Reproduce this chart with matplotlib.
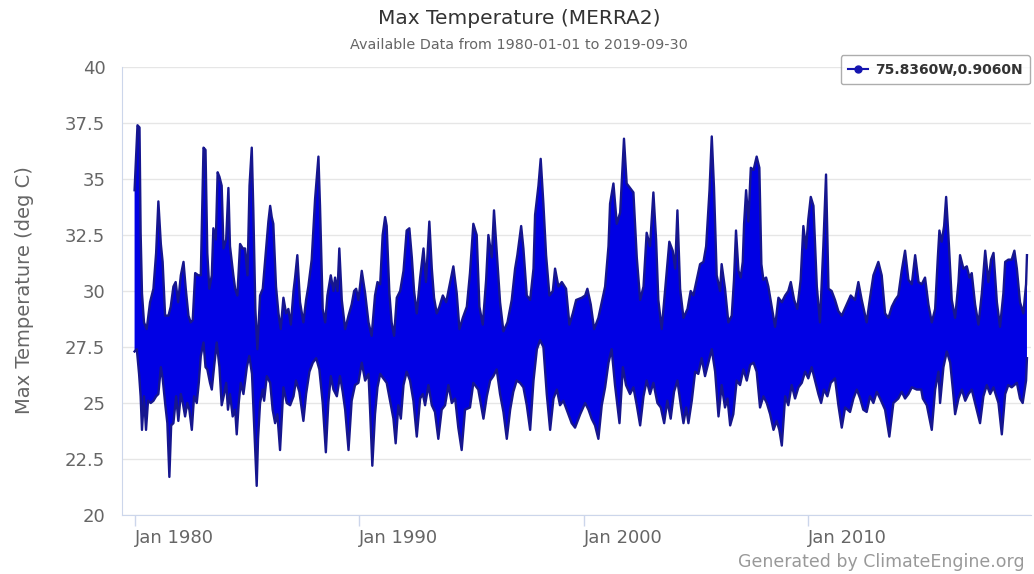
import matplotlib
matplotlib.use("Agg")
import matplotlib.pyplot as plt
from matplotlib.lines import Line2D

# ------------------------------------------------------------
# Daily max temperature (MERRA2), read off the chart as the
# upper and lower edge of the daily trace (decimal years, deg C)
# ------------------------------------------------------------
hi_years = [
    1980.00, 1980.13, 1980.22, 1980.27, 1980.33, 1980.42, 1980.54, 1980.69, 1980.84, 1980.96,
    1981.06, 1981.17, 1981.25, 1981.36, 1981.51, 1981.61, 1981.73, 1981.83, 1981.94, 1982.06,
    1982.18, 1982.28, 1982.40, 1982.50, 1982.59, 1982.70, 1982.84, 1982.95, 1983.07, 1983.16,
    1983.24, 1983.33, 1983.44, 1983.51, 1983.62, 1983.70, 1983.78, 1983.88, 1983.96, 1984.08,
    1984.18, 1984.25, 1984.40, 1984.48, 1984.58, 1984.70, 1984.82, 1984.92, 1985.03, 1985.12,
    1985.22, 1985.29, 1985.38, 1985.47, 1985.59, 1985.71, 1985.81, 1985.96, 1986.04, 1986.11,
    1986.18, 1986.30, 1986.41, 1986.51, 1986.63, 1986.75, 1986.85, 1986.96, 1987.08, 1987.15,
    1987.25, 1987.37, 1987.52, 1987.64, 1987.74, 1987.89, 1988.04, 1988.19, 1988.26, 1988.38,
    1988.49, 1988.59, 1988.74, 1988.86, 1988.93, 1989.04, 1989.12, 1989.23, 1989.38, 1989.53,
    1989.67, 1989.78, 1989.87, 1989.97, 1990.12, 1990.27, 1990.42, 1990.56, 1990.71, 1990.82,
    1990.94, 1991.05, 1991.16, 1991.23, 1991.35, 1991.45, 1991.56, 1991.68, 1991.83, 1991.98,
    1992.12, 1992.24, 1992.35, 1992.45, 1992.57, 1992.72, 1992.87, 1992.98, 1993.13, 1993.24,
    1993.34, 1993.46, 1993.58, 1993.73, 1993.88, 1994.02, 1994.20, 1994.35, 1994.47, 1994.62,
    1994.80, 1994.94, 1995.09, 1995.24, 1995.36, 1995.51, 1995.66, 1995.76, 1995.91, 1996.01,
    1996.13, 1996.28, 1996.43, 1996.61, 1996.80, 1996.95, 1997.05, 1997.22, 1997.32, 1997.47,
    1997.62, 1997.77, 1997.84, 1997.99, 1998.09, 1998.21, 1998.33, 1998.48, 1998.63, 1998.73,
    1998.88, 1999.03, 1999.22, 1999.37, 1999.52, 1999.67, 1999.92, 2000.07, 2000.17, 2000.32,
    2000.47, 2000.66, 2000.81, 2000.96, 2001.11, 2001.18, 2001.33, 2001.48, 2001.63, 2001.80,
    2001.92, 2002.07, 2002.22, 2002.37, 2002.52, 2002.67, 2002.81, 2002.96, 2003.11, 2003.23,
    2003.33, 2003.48, 2003.63, 2003.82, 2003.97, 2004.08, 2004.18, 2004.30, 2004.45, 2004.63,
    2004.77, 2004.89, 2005.04, 2005.19, 2005.34, 2005.46, 2005.61, 2005.71, 2005.81, 2005.93,
    2006.08, 2006.15, 2006.30, 2006.45, 2006.60, 2006.70, 2006.79, 2006.90, 2007.00, 2007.09,
    2007.15, 2007.24, 2007.34, 2007.45, 2007.57, 2007.71, 2007.83, 2007.92, 2008.01, 2008.13,
    2008.23, 2008.38, 2008.53, 2008.68, 2008.83, 2008.98, 2009.12, 2009.23, 2009.38, 2009.52,
    2009.67, 2009.79, 2009.91, 2010.01, 2010.12, 2010.24, 2010.39, 2010.53, 2010.68, 2010.80,
    2010.91, 2011.05, 2011.20, 2011.35, 2011.50, 2011.72, 2011.90, 2012.09, 2012.24, 2012.39,
    2012.61, 2012.76, 2012.91, 2013.13, 2013.28, 2013.43, 2013.58, 2013.73, 2013.88, 2014.02,
    2014.17, 2014.32, 2014.47, 2014.62, 2014.77, 2014.92, 2015.06, 2015.21, 2015.36, 2015.51,
    2015.66, 2015.78, 2015.85, 2015.95, 2016.06, 2016.15, 2016.25, 2016.40, 2016.55, 2016.70,
    2016.77, 2016.92, 2017.07, 2017.19, 2017.29, 2017.44, 2017.59, 2017.74, 2017.89, 2018.03,
    2018.15, 2018.26, 2018.41, 2018.55, 2018.70, 2018.78, 2018.92, 2019.07, 2019.19, 2019.30,
    2019.44, 2019.59, 2019.71, 2019.75,
]
hi_vals = [
    34.5, 37.4, 37.3, 32.6, 29.9, 28.6, 28.3, 29.5, 30.1, 31.7,
    34.0, 32.1, 31.3, 28.9, 28.9, 29.3, 30.2, 30.4, 29.5, 30.7,
    31.3, 30.1, 28.9, 28.6, 28.7, 30.8, 30.7, 30.7, 36.4, 36.3,
    31.7, 30.1, 30.7, 32.8, 32.3, 35.3, 35.1, 34.7, 31.9, 32.3,
    34.6, 32.0, 30.7, 30.1, 29.8, 32.1, 31.9, 31.9, 30.7, 34.7,
    36.4, 33.6, 29.2, 27.4, 29.8, 30.1, 31.3, 33.1, 33.8, 33.3,
    33.0, 30.2, 29.0, 28.3, 29.7, 29.0, 29.2, 28.5, 30.0, 30.6,
    31.6, 29.5, 28.6, 29.6, 30.2, 31.4, 34.1, 36.0, 33.8, 29.2,
    28.6, 29.8, 30.7, 30.0, 30.6, 30.0, 31.9, 29.6, 28.3, 28.9,
    29.4, 30.0, 30.1, 29.6, 30.9, 29.9, 28.6, 28.0, 29.8, 30.4,
    30.3, 32.5, 33.3, 32.9, 29.9, 28.6, 28.0, 29.7, 30.0, 30.9,
    32.7, 32.8, 31.5, 30.0, 29.0, 30.6, 31.9, 30.4, 33.1, 31.0,
    29.7, 29.0, 29.3, 29.8, 29.5, 30.2, 31.1, 29.9, 28.3, 28.8,
    29.3, 30.8, 33.0, 32.5, 29.3, 28.5, 30.5, 32.5, 31.5, 33.6,
    31.8, 29.5, 28.2, 28.6, 29.6, 31.0, 31.6, 32.9, 31.9, 29.8,
    29.6, 31.0, 33.4, 34.7, 35.9, 33.9, 31.6, 29.8, 30.0, 31.0,
    30.2, 30.4, 30.1, 28.5, 29.0, 29.6, 29.7, 29.8, 30.1, 29.4,
    28.3, 28.8, 29.5, 30.2, 32.0, 33.9, 34.8, 33.0, 33.5, 36.8,
    34.8, 34.6, 34.4, 31.5, 29.6, 30.2, 32.6, 32.0, 34.4, 32.3,
    29.6, 28.3, 30.0, 32.2, 31.8, 31.0, 33.6, 30.1, 28.8, 29.2,
    30.0, 29.8, 30.5, 31.2, 31.3, 32.0, 34.5, 36.9, 34.6, 30.7,
    30.0, 31.2, 30.1, 28.6, 28.9, 30.5, 32.7, 30.9, 30.6, 31.3,
    33.0, 34.5, 33.1, 35.5, 35.4, 36.0, 35.5, 31.2, 30.5, 30.6,
    30.2, 29.3, 28.4, 29.7, 29.5, 29.8, 30.0, 30.4, 29.6, 29.2,
    30.5, 32.9, 31.9, 33.2, 34.2, 33.8, 30.2, 28.6, 32.0, 35.2,
    30.1, 30.0, 29.6, 29.1, 28.9, 29.4, 29.8, 29.6, 30.4, 29.6,
    28.6, 29.7, 30.7, 31.3, 30.7, 29.0, 28.8, 29.3, 29.6, 29.8,
    30.9, 31.8, 30.5, 30.3, 31.6, 30.4, 30.3, 30.6, 29.4, 28.6,
    29.2, 31.5, 32.7, 32.2, 32.9, 34.2, 32.5, 29.6, 28.8, 30.4,
    31.6, 31.0, 31.1, 30.6, 30.8, 29.4, 28.5, 29.9, 31.8, 30.4,
    31.4, 31.7, 29.5, 28.4, 29.9, 31.3, 31.4, 31.4, 31.8, 31.0,
    29.5, 29.0, 30.3, 31.6,
]

lo_years = [
    1980.00, 1980.10, 1980.20, 1980.27, 1980.33, 1980.42, 1980.51, 1980.60, 1980.72, 1980.84,
    1980.96, 1981.06, 1981.17, 1981.25, 1981.37, 1981.46, 1981.55, 1981.63, 1981.73, 1981.85,
    1981.95, 1982.06, 1982.15, 1982.25, 1982.35, 1982.44, 1982.55, 1982.65, 1982.77, 1982.86,
    1982.95, 1983.07, 1983.16, 1983.24, 1983.36, 1983.44, 1983.54, 1983.66, 1983.78, 1983.88,
    1983.99, 1984.08, 1984.16, 1984.25, 1984.37, 1984.48, 1984.55, 1984.64, 1984.73, 1984.85,
    1985.00, 1985.11, 1985.23, 1985.35, 1985.44, 1985.50, 1985.59, 1985.71, 1985.77, 1985.89,
    1986.04, 1986.15, 1986.26, 1986.36, 1986.48, 1986.63, 1986.78, 1986.93, 1987.08, 1987.19,
    1987.34, 1987.52, 1987.64, 1987.79, 1987.94, 1988.09, 1988.23, 1988.38, 1988.52, 1988.63,
    1988.74, 1988.86, 1989.01, 1989.15, 1989.27, 1989.38, 1989.53, 1989.67, 1989.82, 1989.97,
    1990.12, 1990.27, 1990.42, 1990.49, 1990.59, 1990.71, 1990.82, 1990.94, 1991.08, 1991.23,
    1991.38, 1991.53, 1991.63, 1991.75, 1991.86, 1991.98, 1992.12, 1992.27, 1992.42, 1992.57,
    1992.72, 1992.84, 1992.94, 1993.09, 1993.24, 1993.38, 1993.53, 1993.68, 1993.83, 1993.98,
    1994.13, 1994.28, 1994.42, 1994.57, 1994.72, 1994.94, 1995.09, 1995.31, 1995.54, 1995.69,
    1995.84, 1995.98, 1996.13, 1996.28, 1996.43, 1996.58, 1996.73, 1996.87, 1997.02, 1997.17,
    1997.32, 1997.47, 1997.62, 1997.77, 1997.92, 1998.06, 1998.21, 1998.36, 1998.51, 1998.66,
    1998.81, 1998.95, 1999.10, 1999.32, 1999.47, 1999.62, 1999.85, 2000.07, 2000.22, 2000.36,
    2000.51, 2000.66, 2000.81, 2000.96, 2001.11, 2001.25, 2001.40, 2001.60, 2001.75, 2001.89,
    2002.07, 2002.22, 2002.37, 2002.52, 2002.67, 2002.81, 2002.96, 2003.11, 2003.29, 2003.44,
    2003.59, 2003.73, 2003.88, 2004.03, 2004.18, 2004.33, 2004.45, 2004.57, 2004.67, 2004.82,
    2004.97, 2005.11, 2005.26, 2005.41, 2005.56, 2005.71, 2005.86, 2006.01, 2006.15, 2006.30,
    2006.41, 2006.53, 2006.67, 2006.82, 2006.97, 2007.12, 2007.27, 2007.42, 2007.57, 2007.71,
    2007.86, 2008.01, 2008.16, 2008.31, 2008.46, 2008.60, 2008.72, 2008.83, 2008.98, 2009.12,
    2009.27, 2009.42, 2009.57, 2009.72, 2009.87, 2010.01, 2010.16, 2010.31, 2010.46, 2010.58,
    2010.71, 2010.86, 2011.01, 2011.20, 2011.35, 2011.50, 2011.65, 2011.87, 2012.02, 2012.17,
    2012.32, 2012.46, 2012.61, 2012.76, 2012.91, 2013.06, 2013.21, 2013.43, 2013.62, 2013.80,
    2014.02, 2014.17, 2014.32, 2014.47, 2014.62, 2014.84, 2015.04, 2015.11, 2015.29, 2015.51,
    2015.66, 2015.81, 2015.88, 2016.03, 2016.18, 2016.33, 2016.45, 2016.55, 2016.70, 2016.85,
    2017.00, 2017.14, 2017.29, 2017.44, 2017.66, 2017.81, 2017.96, 2018.11, 2018.26, 2018.48,
    2018.63, 2018.78, 2018.92, 2019.07, 2019.30, 2019.44, 2019.56, 2019.71, 2019.75,
]
lo_vals = [
    27.3, 27.4, 26.3, 25.3, 23.8, 25.3, 23.8, 25.1, 25.0, 25.1,
    25.3, 25.4, 26.6, 26.1, 24.9, 24.1, 21.7, 24.0, 24.1, 25.3,
    24.2, 25.4, 25.0, 24.4, 25.0, 24.7, 23.8, 25.3, 25.0, 25.9,
    27.1, 27.7, 26.6, 26.5, 25.9, 25.6, 26.6, 27.7, 26.6, 24.9,
    25.4, 25.9, 24.7, 25.4, 24.4, 24.7, 23.6, 25.0, 25.9, 25.4,
    26.6, 27.1, 26.3, 23.4, 21.3, 23.4, 25.0, 25.6, 25.1, 26.2,
    25.9, 24.7, 24.1, 24.5, 22.9, 25.7, 25.0, 24.9, 25.3, 26.0,
    25.5, 24.2, 25.4, 26.4, 26.8, 27.0, 26.5, 25.0, 22.8, 25.0,
    26.2, 25.6, 25.3, 26.2, 25.5, 24.7, 22.9, 25.1, 25.8, 25.9,
    26.8, 26.0, 26.3, 24.7, 22.2, 24.5, 25.7, 26.3, 26.1, 25.9,
    25.1, 24.3, 23.2, 24.9, 24.3, 25.8, 26.4, 26.0, 25.1, 23.5,
    25.2, 25.4, 24.9, 25.8, 24.9, 24.6, 23.4, 24.7, 24.9, 25.8,
    25.0, 25.2, 23.9, 22.9, 24.7, 24.8, 25.9, 25.6, 24.3, 25.3,
    26.0, 26.2, 26.5, 25.4, 24.6, 23.4, 24.7, 25.5, 26.0, 25.9,
    25.7, 24.9, 23.8, 26.0, 27.4, 27.8, 27.5, 25.4, 23.8, 25.2,
    25.6, 24.9, 25.1, 24.5, 24.1, 23.9, 24.5, 25.0, 24.7, 24.3,
    24.0, 23.4, 24.9, 25.7, 26.8, 27.4, 25.8, 24.1, 26.6, 25.8,
    25.4, 25.7, 24.9, 24.0, 25.3, 26.0, 25.4, 25.9, 25.0, 24.8,
    24.1, 25.1, 24.3, 25.5, 26.0, 24.9, 24.1, 24.8, 24.1, 25.1,
    26.4, 26.3, 27.0, 26.2, 26.8, 27.4, 26.4, 24.4, 25.8, 24.8,
    25.2, 24.0, 24.5, 26.0, 25.8, 26.5, 26.0, 26.7, 26.8, 26.4,
    24.8, 25.3, 25.0, 24.5, 23.8, 24.2, 23.8, 23.1, 25.3, 24.9,
    25.8, 25.2, 25.7, 25.9, 26.4, 26.1, 26.6, 26.0, 25.4, 25.0,
    25.6, 25.3, 25.9, 26.1, 24.9, 23.9, 24.8, 24.6, 25.2, 25.6,
    25.2, 24.7, 24.6, 25.3, 25.0, 25.5, 25.2, 24.7, 23.5, 25.0,
    25.2, 25.5, 25.2, 25.4, 25.7, 25.6, 25.6, 25.2, 24.9, 23.8,
    25.6, 26.4, 25.0, 26.6, 27.3, 26.8, 25.6, 24.5, 25.2, 25.6,
    25.1, 25.4, 25.6, 25.0, 24.1, 25.3, 25.8, 25.4, 25.7, 25.0,
    23.6, 25.4, 25.8, 25.7, 25.9, 25.2, 25.0, 26.0, 27.0,
]

tick_years = [1980, 1990, 2000, 2010]
tick_labels = ["Jan 1980", "Jan 1990", "Jan 2000", "Jan 2010"]
y_ticks = [20, 22.5, 25, 27.5, 30, 32.5, 35, 37.5, 40]
y_labels = ["20", "22.5", "25", "27.5", "30", "32.5", "35", "37.5", "40"]
series_name = "75.8360W,0.9060N"

assert len(hi_years) == len(hi_vals)
assert len(lo_years) == len(lo_vals)

#----------------------------------------------------------------
# figure
#----------------------------------------------------------------
W, H = 1034, 574
fig = plt.figure(figsize=(W / 100, H / 100), dpi=100)
ax = fig.add_axes([122 / W, 1 - 515 / H, (1031 - 122) / W, (515 - 67) / H])

fill_col = "#0000e4"
edge_col = "#16168e"

# the daily trace: solid band between the two edges
poly_x = hi_years + lo_years[::-1]
poly_y = hi_vals + lo_vals[::-1]
ax.fill(poly_x, poly_y, color=fill_col, lw=0, zorder=3)
ax.plot(hi_years, hi_vals, color=edge_col, lw=1.7, zorder=4)
ax.plot(lo_years, lo_vals, color=edge_col, lw=1.7, zorder=4)

ax.set_xlim(1979.44, 2019.93)
ax.set_ylim(20, 40)

ax.set_yticks(y_ticks)
ax.set_yticklabels(y_labels)
ax.set_xticks(tick_years)
ax.set_xticklabels(tick_labels, ha="left")

ax.grid(axis="y", color="#e6e6e6", lw=1, zorder=0)
ax.tick_params(axis="y", length=0, pad=12, labelsize=13, labelcolor="#666666")
ax.tick_params(axis="x", length=8, width=1, color="#ccd6eb", pad=2,
               labelsize=13, labelcolor="#666666")

for s in ["top", "right"]:
    ax.spines[s].set_visible(False)
ax.spines["left"].set_color("#ccd6eb")
ax.spines["bottom"].set_color("#ccd6eb")

#----------------------------------------------------------------
# texts
#----------------------------------------------------------------
fig.text(519 / W, 1 - 18 / H, "Max Temperature (MERRA2)", ha="center", va="center",
         fontsize=14.5, color="#333333")
fig.text(519 / W, 1 - 45 / H, "Available Data from 1980-01-01 to 2019-09-30",
         ha="center", va="center", fontsize=10.4, color="#666666")
fig.text(25 / W, 1 - 290 / H, "Max Temperature (deg C)", rotation=90, ha="center",
         va="center", fontsize=14, color="#666666")
fig.text(1025 / W, 1 - 562 / H, "Generated by ClimateEngine.org", ha="right",
         va="center", fontsize=12.5, color="#999999")

handle = Line2D([], [], color="#1515b0", lw=1.5, marker="o", markersize=5)
leg = fig.legend([handle], [series_name], loc="upper right",
                 bbox_to_anchor=(1030 / W, 1 - 55 / H), borderaxespad=0,
                 frameon=True, fancybox=True,
                 handlelength=1.4, handletextpad=0.5, borderpad=0.55,
                 prop={"weight": "bold", "size": 10})
leg.get_frame().set_edgecolor("#999999")
leg.get_frame().set_linewidth(1)
for t in leg.get_texts():
    t.set_color("#333333")

fig.savefig("out.png", dpi=100)
